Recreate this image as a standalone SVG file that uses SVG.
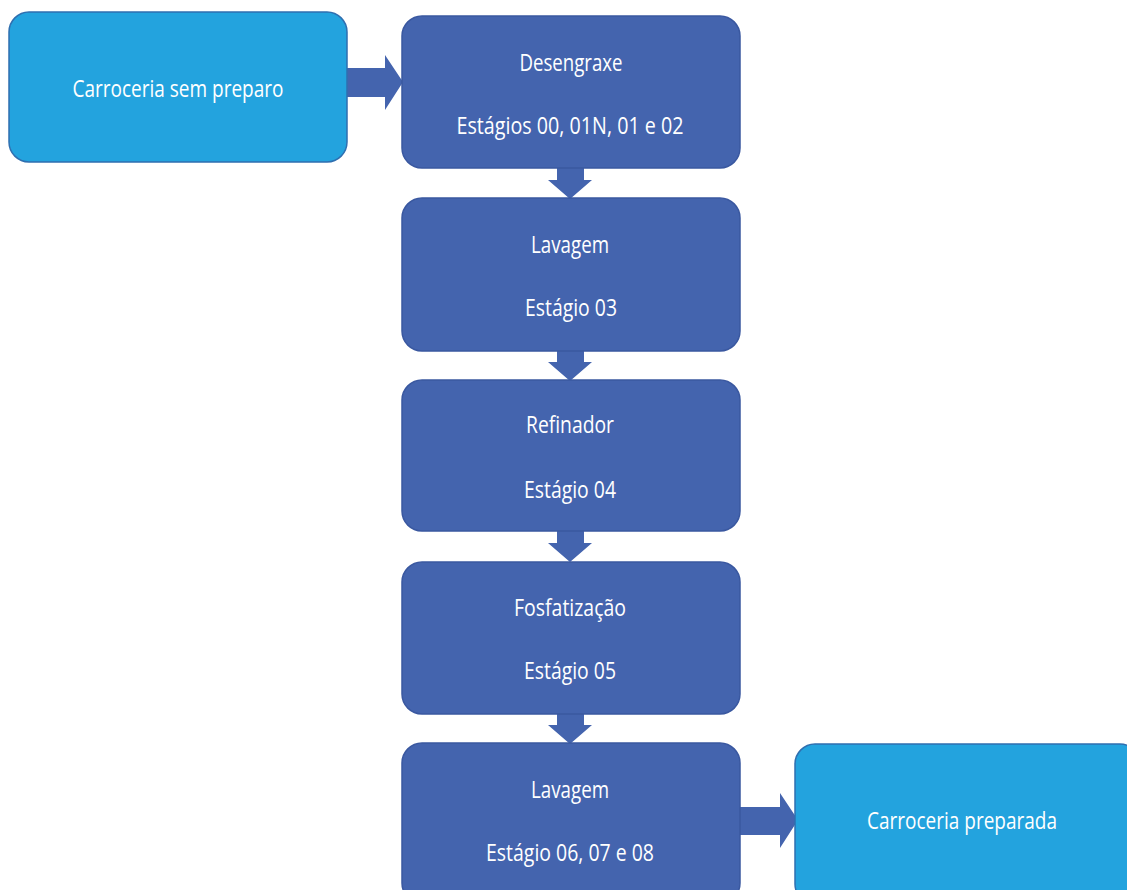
<svg xmlns="http://www.w3.org/2000/svg" width="1127" height="890" viewBox="0 0 1127 890">
  <style>
    .start { fill: #23a3de; stroke: #2f6fb0; stroke-width: 1.5; }
    .step { fill: #4464ae; stroke: #3a58a0; stroke-width: 1.5; }
    .arrow { fill: #4464ae; }
    text { font-family: "Open Sans", "Liberation Sans", sans-serif; font-size: 24px; fill: #ffffff; text-anchor: middle; }
  </style>
  <rect width="1127" height="890" fill="#ffffff"/>

  <g id="connectors">
    <!-- horizontal block arrow into the first stage -->
    <path class="arrow" d="M347,68 H385 V55 L403,82 L385,110 V97 H347 Z"/>
    <!-- downward block arrows between stages -->
    <path class="arrow" d="M557,168 H584 V180 H592 L570,199 L548,180 H557 Z"/>
    <path class="arrow" d="M557,351 H584 V362 H592 L570,381 L548,362 H557 Z"/>
    <path class="arrow" d="M557,531 H584 V543 H592 L570,562 L548,543 H557 Z"/>
    <path class="arrow" d="M557,714 H584 V725 H592 L570,744 L548,725 H557 Z"/>
    <!-- horizontal block arrow to the finished body -->
    <path class="arrow" d="M740,807 H780 V793 L798,820 L780,848 V835 H740 Z"/>
  </g>

  <g id="node-carroceria-sem-preparo">
    <rect class="start" x="9" y="12" width="338" height="150" rx="20"/>
    <text x="178" y="97" textLength="211" lengthAdjust="spacingAndGlyphs">Carroceria sem preparo</text>
  </g>

  <g id="node-desengraxe">
    <rect class="step" x="402" y="16" width="338" height="152" rx="20"/>
    <text x="571" y="71" textLength="103" lengthAdjust="spacingAndGlyphs">Desengraxe</text>
    <text x="570" y="134" textLength="227" lengthAdjust="spacingAndGlyphs">Estágios 00, 01N, 01 e 02</text>
  </g>

  <g id="node-lavagem-03">
    <rect class="step" x="402" y="198" width="338" height="153" rx="20"/>
    <text x="570" y="253" textLength="78" lengthAdjust="spacingAndGlyphs">Lavagem</text>
    <text x="571" y="316" textLength="92" lengthAdjust="spacingAndGlyphs">Estágio 03</text>
  </g>

  <g id="node-refinador">
    <rect class="step" x="402" y="380" width="338" height="151" rx="20"/>
    <text x="570" y="433" textLength="88" lengthAdjust="spacingAndGlyphs">Refinador</text>
    <text x="570" y="498" textLength="92" lengthAdjust="spacingAndGlyphs">Estágio 04</text>
  </g>

  <g id="node-fosfatizacao">
    <rect class="step" x="402" y="562" width="338" height="152" rx="20"/>
    <text x="570" y="616" textLength="112" lengthAdjust="spacingAndGlyphs">Fosfatização</text>
    <text x="570" y="679" textLength="92" lengthAdjust="spacingAndGlyphs">Estágio 05</text>
  </g>

  <g id="node-lavagem-06-08">
    <rect class="step" x="402" y="743" width="338" height="160" rx="20"/>
    <text x="570" y="798" textLength="78" lengthAdjust="spacingAndGlyphs">Lavagem</text>
    <text x="570" y="861" textLength="168" lengthAdjust="spacingAndGlyphs">Estágio 06, 07 e 08</text>
  </g>

  <g id="node-carroceria-preparada">
    <rect class="start" x="795" y="744" width="345" height="160" rx="20"/>
    <text x="962" y="829" textLength="190" lengthAdjust="spacingAndGlyphs">Carroceria preparada</text>
  </g>
</svg>
